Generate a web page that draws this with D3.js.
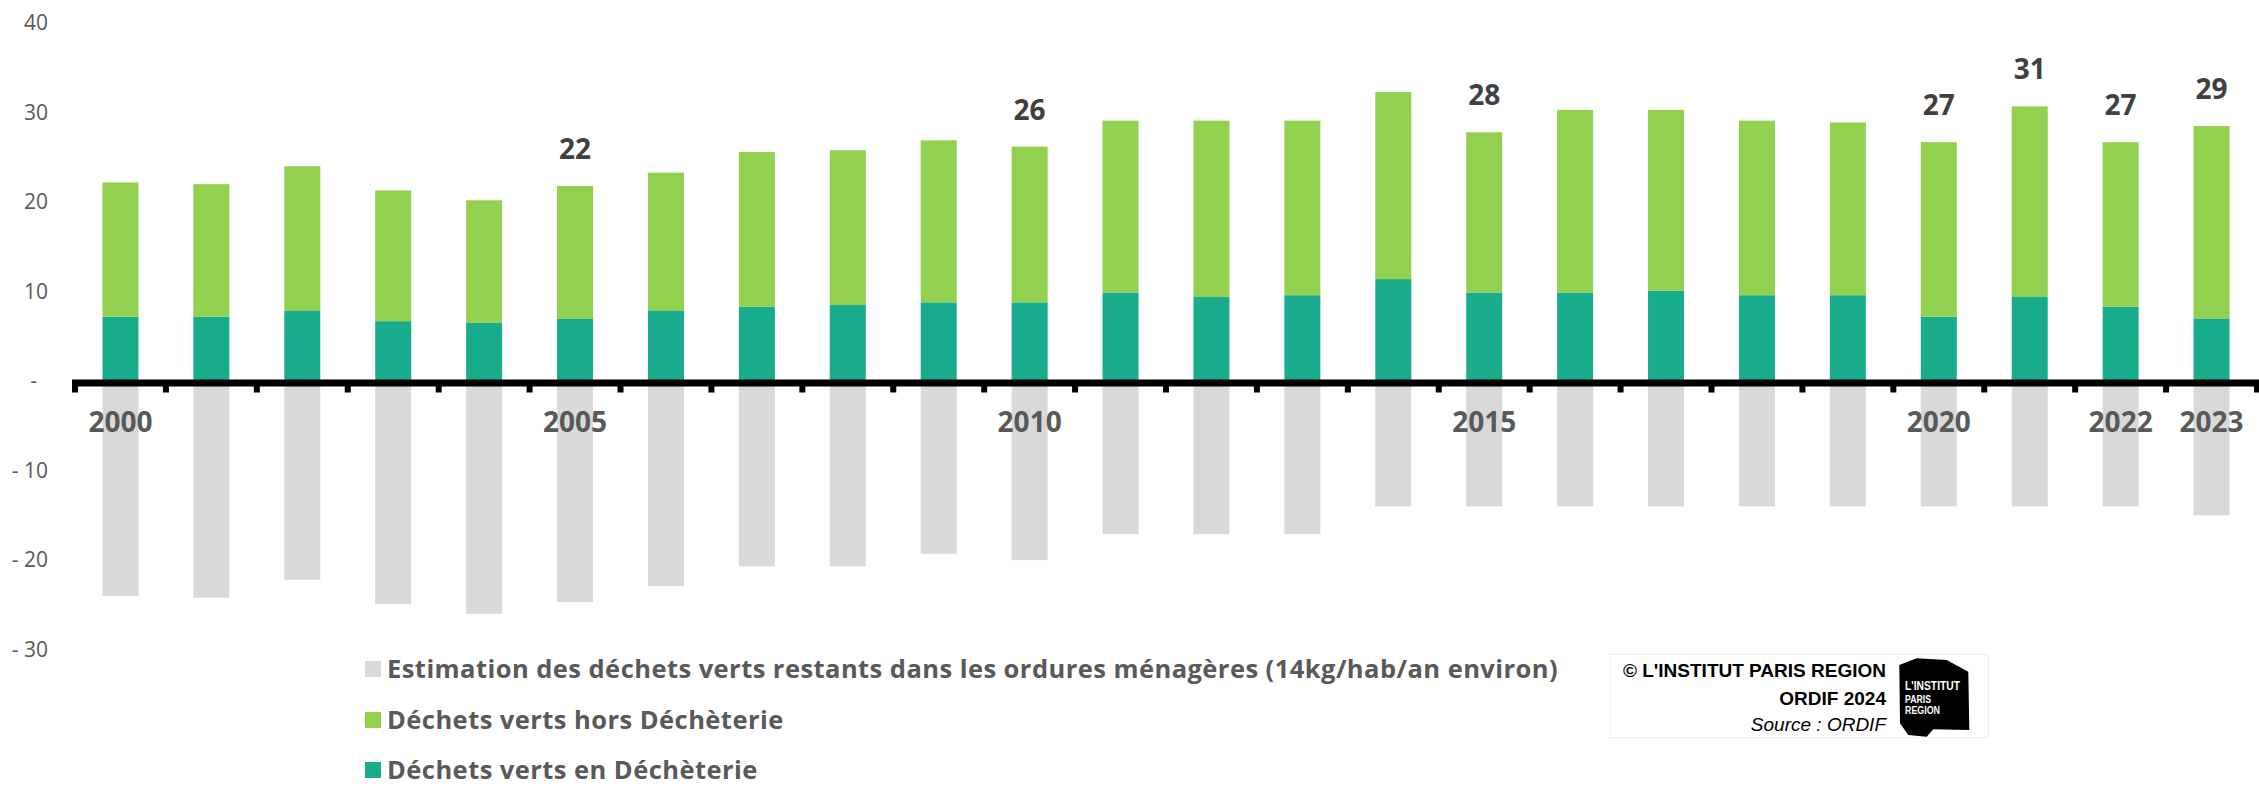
<!DOCTYPE html>
<html><head><meta charset="utf-8">
<script src="https://cdn.jsdelivr.net/npm/d3@7"></script>
<style>
html,body{margin:0;padding:0;background:#fff;}
svg{display:block;}
</style></head>
<body>
<svg id="chart" width="2259" height="786"></svg>
<script>
// ---- data (kg/hab/an) ----
const years = [2000,2001,2002,2003,2004,2005,2006,2007,2008,2009,2010,2011,2012,2013,2014,2015,2016,2017,2018,2019,2020,2021,2022,2023];
const enDecheterie   = [7.3,7.3,8.0,6.8,6.6,7.1,8.0,8.4,8.6,8.9,8.9,10.0,9.5,9.7,11.5,10.0,10.0,10.2,9.7,9.7,7.3,9.5,8.4,7.1];
const horsDecheterie = [15.0,14.8,16.1,14.6,13.7,14.8,15.4,17.3,17.3,18.1,17.4,19.2,19.7,19.5,20.9,17.9,20.4,20.2,19.5,19.3,19.5,21.3,18.4,21.5];
const restantsOM     = [-23.9,-24.1,-22.1,-24.8,-25.9,-24.6,-22.8,-20.6,-20.6,-19.2,-19.9,-17.0,-17.0,-17.0,-13.9,-13.9,-13.9,-13.9,-13.9,-13.9,-13.9,-13.9,-13.9,-14.9];
const yTicks = [-30,-20,-10,0,10,20,30,40];
const xLabelYears = [2000,2005,2010,2015,2020,2022,2023];
const totalLabelYears = [2005,2010,2015,2020,2021,2022,2023];
const legendLabels = [
  "Estimation des déchets verts restants dans les ordures ménagères (14kg/hab/an environ)",
  "Déchets verts hors Déchèterie",
  "Déchets verts en Déchèterie"
];
const creditLines = ["© L'INSTITUT PARIS REGION", "ORDIF 2024", "Source : ORDIF"];
const logoLines = ["L'INSTITUT", "PARIS", "REGION"];

const COL_GREY = "#D9D9D9", COL_GREEN = "#92D050", COL_TEAL = "#18AC8C";
const legendColors = [COL_GREY, COL_GREEN, COL_TEAL];

const rows = years.map((yr, i) => ({
  year: yr, en: enDecheterie[i], hors: horsDecheterie[i], om: restantsOM[i],
  total: enDecheterie[i] + horsDecheterie[i]
}));

const svg = d3.select("#chart");
svg.append("rect").attr("width", 2259).attr("height", 786).attr("fill", "#fff");

const x = d3.scaleBand().domain(years).range([75, 2257]).paddingInner(0.604).paddingOuter(0.302);
const y = d3.scaleLinear().domain([-30, 40]).range([650.5, 24]);
const step = x.step();
const bw = x.bandwidth();

// bars
const g = svg.append("g");
g.selectAll(".om").data(rows).join("rect")
  .attr("x", d => x(d.year)).attr("width", bw)
  .attr("y", y(0)).attr("height", d => y(d.om) - y(0))
  .attr("fill", COL_GREY);
g.selectAll(".en").data(rows).join("rect")
  .attr("x", d => x(d.year)).attr("width", bw)
  .attr("y", d => y(d.en)).attr("height", d => y(0) - y(d.en))
  .attr("fill", COL_TEAL);
g.selectAll(".hors").data(rows).join("rect")
  .attr("x", d => x(d.year)).attr("width", bw)
  .attr("y", d => y(d.total)).attr("height", d => y(d.en) - y(d.total))
  .attr("fill", COL_GREEN);

// zero axis line and category boundary ticks
const y0 = y(0);
svg.append("line")
  .attr("x1", x.range()[0] - 3).attr("x2", x.range()[1] + 3)
  .attr("y1", y0 + 1).attr("y2", y0 + 1)
  .attr("stroke", "#000").attr("stroke-width", 7);
const boundaries = years.map(yr => x(yr) - (step - bw) / 2).concat([x.range()[1]]);
svg.selectAll(".tk").data(boundaries).join("rect")
  .attr("x", d => d - 3).attr("width", 6)
  .attr("y", y0).attr("height", 10.5)
  .attr("fill", "#000");

// y axis labels
const fmt = v => v === 0 ? "-" : (v < 0 ? "- " + Math.abs(v) : String(v));
const yAxis = svg.append("g").attr("transform", "translate(48,0)")
  .call(d3.axisLeft(y).tickValues(yTicks).tickSize(0).tickPadding(0).tickFormat(fmt));
yAxis.select(".domain").remove();
yAxis.selectAll("text")
  .attr("font-family", "'Open Sans', sans-serif").attr("font-size", 21)
  .attr("fill", "#595959").attr("dy", 5.5)
  .attr("dx", d => d === 0 ? -11 : 0);

// x axis labels
const xAxis = svg.append("g")
  .call(d3.axisBottom(x).tickValues(xLabelYears).tickSize(0).tickPadding(0));
xAxis.select(".domain").remove();
xAxis.selectAll("text")
  .attr("y", 432).attr("dy", 0)
  .attr("font-family", "'Open Sans', sans-serif").attr("font-size", 28).attr("font-weight", 700)
  .attr("fill", "#595959");

// total labels
svg.selectAll(".tot").data(rows.filter(d => totalLabelYears.includes(d.year))).join("text")
  .attr("x", d => x(d.year) + bw / 2)
  .attr("y", d => y(d.total) - 27)
  .attr("text-anchor", "middle")
  .attr("font-family", "'Open Sans', sans-serif").attr("font-size", 28).attr("font-weight", 700)
  .attr("fill", "#404040")
  .text(d => d3.format(".0f")(d.total));

// legend
const legY = [669, 720, 770];
const leg = svg.append("g");
legendLabels.forEach((lab, i) => {
  leg.append("rect").attr("x", 365).attr("y", legY[i] - 8).attr("width", 16).attr("height", 16).attr("fill", legendColors[i]);
  leg.append("text").attr("x", 387).attr("y", legY[i] + 9)
    .attr("font-family", "'Open Sans', sans-serif").attr("font-size", 25.5).attr("font-weight", 700)
    .attr("letter-spacing", 0.45)
    .attr("fill", "#595959").text(lab);
});

// credit box
const cb = svg.append("g");
cb.append("rect").attr("x", 1610.5).attr("y", 654.5).attr("width", 378).attr("height", 83)
  .attr("fill", "#fff").attr("stroke", "#eeeeee").attr("stroke-width", 1);
const credY = [676.5, 705, 731];
creditLines.forEach((t, i) => {
  cb.append("text").attr("x", 1886).attr("y", credY[i]).attr("text-anchor", "end")
    .attr("font-family", "'Liberation Sans', Arial, sans-serif").attr("font-size", 19)
    .attr("font-weight", i < 2 ? 700 : 400).attr("font-style", i === 2 ? "italic" : "normal")
    .attr("fill", "#000").text(t);
});
cb.append("path")
  .attr("d", "M1899.3,665 L1916.7,658.3 L1946.7,660 L1968.3,671.7 L1969.3,730 L1933.3,729.3 L1926.7,736.7 L1908.3,735 L1900,723.3 Z")
  .attr("fill", "#000");
const logoY = [690, 703.3, 714.3];
const logoSize = [12, 10.5, 10.5];
const logoLen = [55, 26, 35];
logoLines.forEach((t, i) => {
  cb.append("text").attr("x", 1905).attr("y", logoY[i])
    .attr("font-family", "'Liberation Sans', Arial, sans-serif").attr("font-size", logoSize[i])
    .attr("textLength", logoLen[i]).attr("lengthAdjust", "spacingAndGlyphs")
    .attr("font-weight", 700).attr("fill", "#fff").text(t);
});
</script>
</body></html>
